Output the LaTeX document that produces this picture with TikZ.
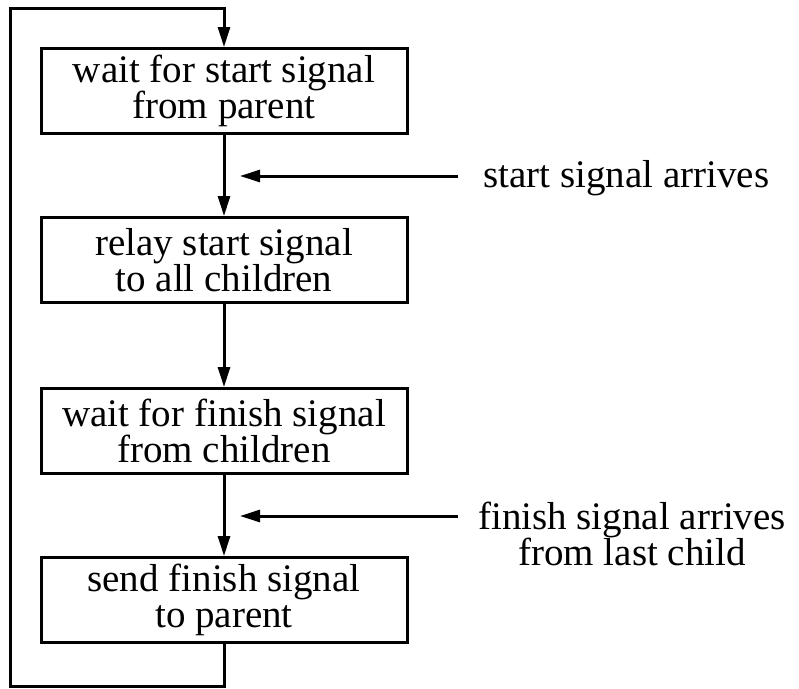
\documentclass[tikz,border=0pt]{standalone}
\usepackage{fontspec}
\setmainfont{Liberation Serif}
\usetikzlibrary{arrows.meta}
\begin{document}
\begin{tikzpicture}[x=1pt,y=-1pt,
  line width=3pt,
  stepbox/.style={draw, line width=3pt, minimum width=366pt, minimum height=85pt,
    inner sep=0pt, align=center, font=\fontsize{39}{36}\selectfont},
  lbl/.style={inner sep=0pt, align=center, font=\fontsize{39}{36}\selectfont},
  flow/.style={-{Triangle[length=20pt,width=12pt]}, line width=3pt},
  loopline/.style={line width=3pt, line join=miter}]
  \useasboundingbox (0,0) rectangle (799,688);

  % the four steps of the protocol
  \node[stepbox] (b1) at (224,91)  {wait for start signal\\from parent};
  \node[stepbox] (b2) at (224,260) {relay start signal\\to all children};
  \node[stepbox] (b3) at (224,431) {wait for finish signal\\from children};
  \node[stepbox] (b4) at (224,600) {send finish signal\\to parent};

  % transitions between steps
  \draw[flow] (b1.south) -- (b2.north);
  \draw[flow] (b2.south) -- (b3.north);
  \draw[flow] (b3.south) -- (b4.north);

  % return loop from the last step back to the first
  \draw[loopline, -{Triangle[length=20pt,width=12pt]}]
    (b4.south) -- (b4.south |- 0,686) -- (10,686) -- (10,8) -- (b1.north |- 0,8) -- (b1.north);

  % external events
  \node[lbl, anchor=west] (e1) at (482,178) {start signal arrives};
  \coordinate (s1) at (458,176);
  \coordinate (t1) at (240,176);
  \draw[flow] (s1) -- (t1);

  \node[lbl] (e2) at (632,534) {finish signal arrives\\from last child};
  \coordinate (s2) at (458,516);
  \coordinate (t2) at (240,516);
  \draw[flow] (s2) -- (t2);
\end{tikzpicture}
\end{document}
